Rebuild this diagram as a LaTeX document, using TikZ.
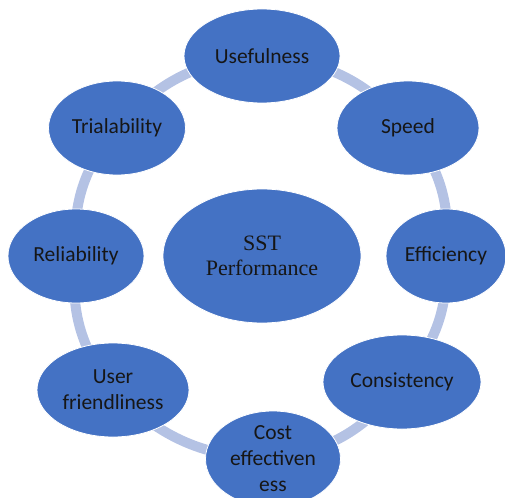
\documentclass[tikz,border=0pt]{standalone}
\usepackage{fontspec}
\setmainfont{Carlito}
\newfontfamily\serifface{Liberation Serif}
\usetikzlibrary{shapes.geometric,backgrounds}
\definecolor{nodeblue}{HTML}{4472C4}
\definecolor{ringblue}{HTML}{B4C2E4}
\definecolor{txt}{HTML}{161616}
\begin{document}
\begin{tikzpicture}[x=1pt,y=-1pt,
  ell/.style={ellipse, fill=nodeblue, draw=white, line width=0.8pt, inner sep=0pt,
    text=txt, font=\fontsize{21.5}{26}\selectfont, align=center},
  ring/.style={draw=ringblue, line width=10pt}]
\useasboundingbox (0,0) rectangle (505,497);
\clip (0,0) rectangle (505,497);
\node[ell, minimum width=156, minimum height=94] (use) at (262,56) {Usefulness};
\node[ell, minimum width=142, minimum height=94] (spd) at (408,128) {Speed};
\node[ell, minimum width=120, minimum height=94] (eff) at (446,256) {Efficiency};
\node[ell, minimum width=158, minimum height=94] (con) at (402,382) {Consistency};
\node[ell, minimum width=135, minimum height=96] (cost) at (273,459) {Cost\\effectiven\\ess};
\node[ell, minimum width=152, minimum height=94] (usr) at (113,390) {User\\friendliness};
\node[ell, minimum width=136, minimum height=94] (rel) at (76,256) {Reliability};
\node[ell, minimum width=137, minimum height=94] (tri) at (117,128) {Trialability};
\node[ell, minimum width=198, minimum height=134, font=\serifface\fontsize{22}{25}\selectfont] (sst) at (262,256) {SST\\Performance};
\begin{scope}[on background layer]
\draw[ring] (use.center) to[bend left=22] (spd.center);
\draw[ring] (spd.center) to[bend left=22] (eff.center);
\draw[ring] (eff.center) to[bend left=22] (con.center);
\draw[ring] (con.center) to[bend left=22] (cost.center);
\draw[ring] (cost.center) to[bend left=22] (usr.center);
\draw[ring] (usr.center) to[bend left=22] (rel.center);
\draw[ring] (rel.center) to[bend left=22] (tri.center);
\draw[ring] (tri.center) to[bend left=22] (use.center);
\end{scope}
\end{tikzpicture}
\end{document}
